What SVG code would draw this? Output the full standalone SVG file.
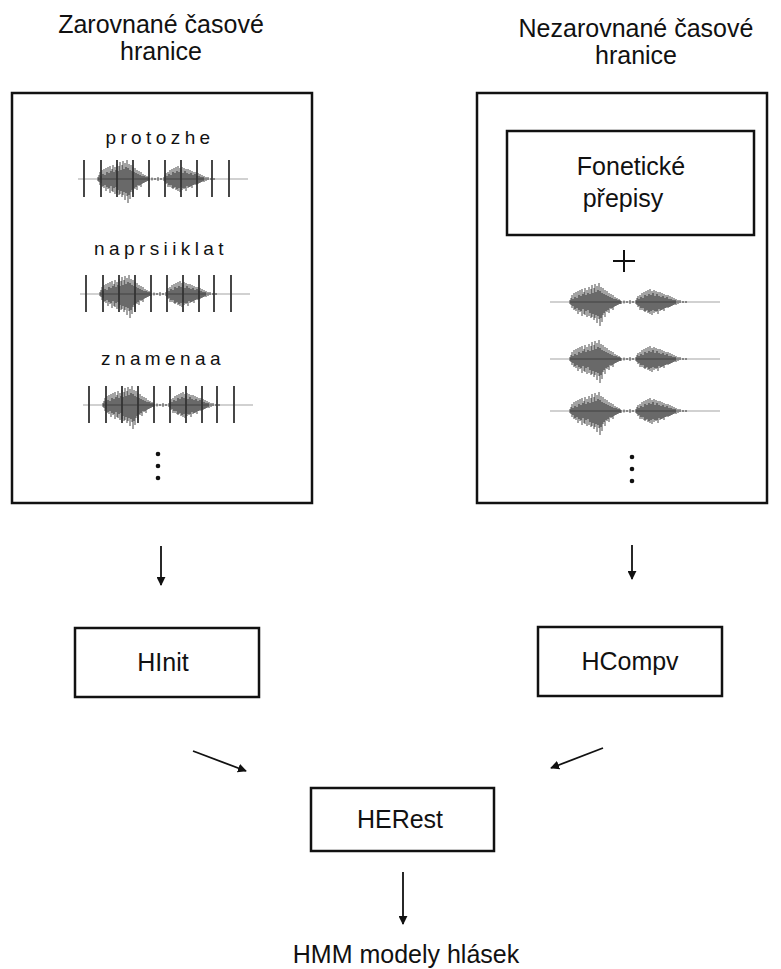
<svg xmlns="http://www.w3.org/2000/svg" xmlns:xlink="http://www.w3.org/1999/xlink" width="781" height="969" viewBox="0 0 781 969">
<style>
text{font-family:"Liberation Sans",Arial,sans-serif;fill:#111}
.t{font-size:25px;text-anchor:middle}
.w{font-size:19px;letter-spacing:4.4px;text-anchor:middle}
.box{fill:#fff;stroke:#111;stroke-width:2.5}
.big{fill:#fff;stroke:#111;stroke-width:2.5}
.conn{stroke:#111;stroke-width:1.8;fill:none;marker-end:url(#ah)}
.base{stroke:#999;stroke-width:0.9}
.burst{stroke:#000;stroke-width:0.8;opacity:0.9;fill:none}
.bar{stroke:#333;stroke-width:1.8}
.dot{fill:#111}
</style>
<defs>
<marker id="ah" viewBox="0 0 10 10" refX="9" refY="5" markerWidth="9" markerHeight="9" markerUnits="userSpaceOnUse" orient="auto">
<path d="M0,0L10,5L0,10z" fill="#111"/>
</marker>
<g id="wave">
<line class="base" x1="0" y1="0" x2="170" y2="0"/>
<path class="burst" d="M20,-2V2M21,-4V3M22,-7V6M23,-3V4M24,-9V8M25,-5V7M26,-10V9M27,-4V6M28,-11V12M29,-7V8M30,-12V10M31,-6V9M32,-13V14M33,-8V7M34,-10V12M35,-14V13M36,-7V9M37,-12V15M38,-9V8M39,-15V14M40,-8V11M41,-13V16M42,-17V15M43,-9V12M44,-14V18M45,-18V16M46,-10V13M47,-16V21M48,-12V14M49,-19V17M50,-11V24M51,-15V16M52,-9V20M53,-14V13M54,-8V11M55,-12V15M56,-7V9M57,-11V10M58,-6V8M59,-9V11M60,-5V6M61,-8V7M62,-4V6M63,-7V8M64,-3V5M65,-5V4M66,-3V4M67,-4V3M68,-2V3M69,-3V2M70,-2V2M71,-1V2M74,-1.5V1.5M77,-1V1M80,-2V2M83,-1V1M86,-2V2M87,-4V3M88,-6V5M89,-3V4M90,-7V8M91,-5V6M92,-9V8M93,-4V6M94,-10V9M95,-7V10M96,-11V9M97,-6V8M98,-12V11M99,-8V10M100,-13V12M101,-7V9M102,-11V13M103,-9V8M104,-12V11M105,-6V9M106,-11V10M107,-8V9M108,-10V12M109,-6V7M110,-10V9M111,-5V8M112,-9V8M113,-6V7M114,-8V9M115,-4V6M116,-7V6M117,-5V5M118,-7V6M119,-3V5M120,-6V5M121,-3V4M122,-5V4M123,-2V3M124,-4V3M125,-2V2M126,-3V3M128,-2V2M130,-2V1M133,-1V1M136,-1V1"/>
</g>
<g id="bars">
<path class="bar" d="M6,-19V18M23,-19V18M39,-19V18M55,-19V18M71,-19V18M87,-19V18M103,-19V18M119,-19V18M134,-19V18M151,-19V18"/>
</g>
</defs>
<rect width="781" height="969" fill="#fff"/>

<g id="title-left">
<text class="t" x="161" y="33">Zarovnané časové</text>
<text class="t" x="161" y="60">hranice</text>
</g>
<g id="title-right">
<text class="t" x="636" y="37">Nezarovnané časové</text>
<text class="t" x="636" y="64">hranice</text>
</g>

<g id="aligned">
<rect class="big" x="12" y="93" width="300" height="410"/>
<text class="w" x="160" y="144">protozhe</text>
<use xlink:href="#wave" x="78" y="179"/>
<use xlink:href="#bars" x="78" y="179"/>
<text class="w" x="161" y="255">naprsiiklat</text>
<use xlink:href="#wave" x="80" y="294"/>
<use xlink:href="#bars" x="80" y="294"/>
<text class="w" x="163" y="365">znamenaa</text>
<use xlink:href="#wave" x="83" y="405"/>
<use xlink:href="#bars" x="83" y="405"/>
<circle class="dot" cx="158" cy="454" r="2.3"/>
<circle class="dot" cx="158" cy="466" r="2.3"/>
<circle class="dot" cx="158" cy="478" r="2.3"/>
</g>

<g id="unaligned">
<rect class="big" x="477" y="93" width="290" height="410"/>
<g id="transcripts">
<rect class="box" x="507" y="131" width="247" height="104"/>
<text class="t" x="631" y="175">Fonetické</text>
<text class="t" x="623" y="207">přepisy</text>
</g>
<path d="M613,261H635M624,250V272" stroke="#111" stroke-width="2" fill="none"/>
<use xlink:href="#wave" x="550" y="302"/>
<use xlink:href="#wave" x="550" y="359"/>
<use xlink:href="#wave" x="550" y="411"/>
<circle class="dot" cx="632" cy="457" r="2.3"/>
<circle class="dot" cx="632" cy="469" r="2.3"/>
<circle class="dot" cx="632" cy="481" r="2.3"/>
</g>

<g id="hinit">
<rect class="box" x="75" y="628" width="184" height="69"/>
<text class="t" x="163" y="671">HInit</text>
</g>
<g id="hcompv">
<rect class="box" x="538" y="627" width="184" height="69"/>
<text class="t" x="630" y="670">HCompv</text>
</g>
<g id="herest">
<rect class="box" x="311" y="788" width="183" height="63"/>
<text class="t" x="400" y="828">HERest</text>
</g>
<g id="output">
<text class="t" x="406" y="963">HMM modely hlásek</text>
</g>

<g id="connectors">
<line class="conn" x1="161" y1="546" x2="161" y2="585"/>
<line class="conn" x1="632" y1="545" x2="632" y2="579"/>
<line class="conn" x1="193" y1="751" x2="246" y2="771"/>
<line class="conn" x1="603" y1="748" x2="551" y2="768"/>
<line class="conn" x1="403" y1="872" x2="403" y2="924"/>
</g>
</svg>
